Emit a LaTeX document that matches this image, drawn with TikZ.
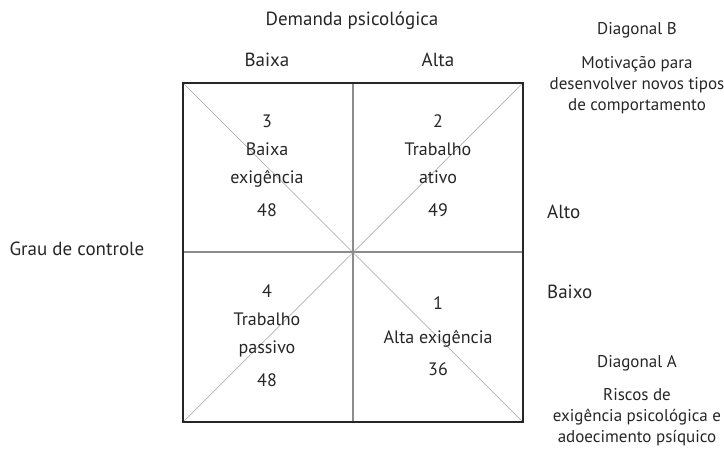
\documentclass[tikz,border=0pt]{standalone}
\usepackage{fontspec}
\setmainfont{PT Sans}
\usepackage{tikz}
\usetikzlibrary{positioning}
\usepackage{xcolor}

\begin{document}
\begin{tikzpicture}[
  x=1pt, y=-1pt,
  lbl/.style={inner sep=0pt, font=\fontsize{19}{22}\selectfont, text=black!85},
  cell/.style={lbl, align=center, font=\fontsize{18}{28}\selectfont},
  note/.style={lbl, align=center, font=\fontsize{17}{21.3}\selectfont},
  frame/.style={draw=black!85, line width=1.3pt},
  axis/.style={draw=black!45, line width=1.2pt},
  diag/.style={draw=black!30, line width=0.7pt}
]
\useasboundingbox (0,0) rectangle (724,448);
% corners of the grid
\coordinate (nw) at (183,83);
\coordinate (ne) at (523,83);
\coordinate (sw) at (183,422);
\coordinate (se) at (523,422);
\coordinate (c) at (353,252);
\coordinate (n) at (353,83);
\coordinate (s) at (353,422);
\coordinate (w) at (183,252);
\coordinate (e) at (523,252);
% diagonals and middle lines
\draw[diag] (nw) -- (se);
\draw[diag] (sw) -- (ne);
\draw[axis] (n) -- (s);
\draw[axis] (w) -- (e);
\draw[frame] (nw) rectangle (se);
% axis labels
\node[lbl] (demanda) at (352,21) {Demanda psicológica};
\node[lbl] (baixa) at (267,60) {Baixa};
\node[lbl] (alta) at (438,60) {Alta};
\node[lbl] (grau) at (77,249) {Grau de controle};
\node[lbl, anchor=west] (alto) at (547,212) {Alto};
\node[lbl, anchor=west] (baixo) at (547,292) {Baixo};
% quadrants
\node[cell] (q3) at (267,166) {3\\Baixa\\exigência\\[5pt]48};
\node[cell] (q2) at (438,166) {2\\Trabalho\\ativo\\[5pt]49};
\node[cell] (q4) at (267,336) {4\\Trabalho\\passivo\\[5pt]48};
\node[cell] (q1) at (438,336) {1\\[6pt]Alta exigência\\[4pt]36};
% diagonals
\node[note] (diagB) at (637,30) {Diagonal B};
\node[note] (motiv) at (637,85) {Motivação para\\desenvolver novos tipos\\de comportamento};
\node[note] (diagA) at (637,363) {Diagonal A};
\node[note] (riscos) at (637,417) {Riscos de\\exigência psicológica e\\adoecimento psíquico};
\end{tikzpicture}
\end{document}
